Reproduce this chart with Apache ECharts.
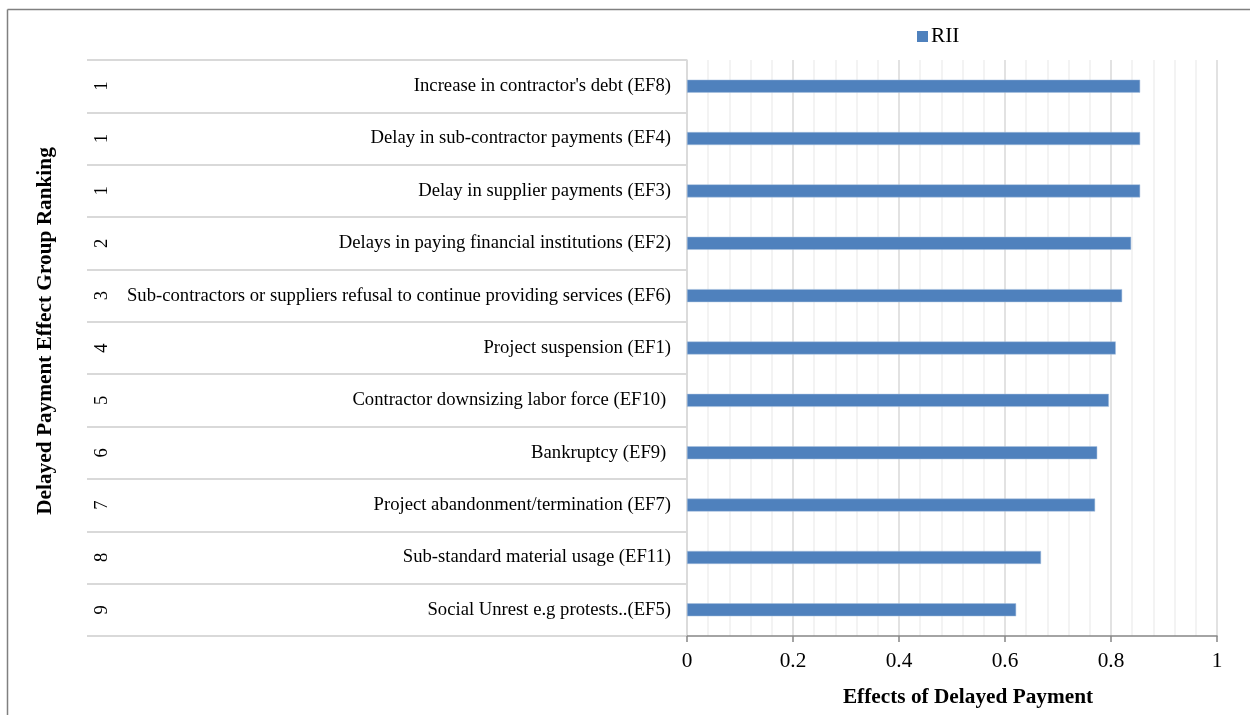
<!DOCTYPE html>
<html>
<head>
<meta charset="utf-8">
<script src="https://cdn.jsdelivr.net/npm/echarts@6/dist/echarts.min.js"></script>
<style>html,body{margin:0;padding:0;background:#fff;}#c{width:1250px;height:715px;}</style>
</head>
<body>
<div id="c"></div>
<script>
const categories = [
  "Increase in contractor's debt (EF8)",
  "Delay in sub-contractor payments (EF4)",
  "Delay in supplier payments (EF3)",
  "Delays in paying financial institutions (EF2)",
  "Sub-contractors or suppliers refusal to continue providing services (EF6)",
  "Project suspension (EF1)",
  "Contractor downsizing labor force (EF10) ",
  "Bankruptcy (EF9) ",
  "Project abandonment/termination (EF7)",
  "Sub-standard material usage (EF11)",
  "Social Unrest e.g protests..(EF5)"
];
const ranks = ["1","1","1","2","3","4","5","6","7","8","9"];
const rii = [0.855, 0.855, 0.855, 0.838, 0.821, 0.809, 0.796, 0.774, 0.770, 0.668, 0.621];
const xTicks = { min: 0, max: 1, interval: 0.2 };

const serif = "'Liberation Serif', 'DejaVu Serif', serif";
const chart = echarts.init(document.getElementById('c'));
chart.setOption({
  animation: false,
  backgroundColor: '#fff',
  legend: {
    data: ['RII'], left: 912, top: 21, itemWidth: 11, itemHeight: 11, itemGap: 3,
    icon: 'rect',
    itemStyle: { borderWidth: 0 },
    textStyle: { fontFamily: serif, fontSize: 21.3, color: '#000', padding: [2,0,0,-2] }
  },
  grid: [
    { left: 687, right: 33, top: 60, bottom: 79 },
    { left: 87, width: 600, top: 60, bottom: 79 }
  ],
  xAxis: [
    {
      type: 'value', gridIndex: 0, min: xTicks.min, max: xTicks.max, interval: xTicks.interval,
      axisLine: { show: true, lineStyle: { color: '#868686', width: 1.5 } },
      axisTick: { show: true, length: 6, lineStyle: { color: '#868686', width: 1.5 } },
      axisLabel: { fontFamily: serif, fontSize: 21.3, color: '#000', margin: 15 },
      splitLine: { show: true, lineStyle: { color: '#d9d9d9', width: 1.5 } },
      minorTick: { show: false, splitNumber: 5 },
      minorSplitLine: { show: true, lineStyle: { color: '#efefef', width: 1.5 } }
    },
    { type: 'value', gridIndex: 1, show: false }
  ],
  yAxis: [
    {
      type: 'category', gridIndex: 0, data: categories, inverse: true,
      axisLine: { show: true, lineStyle: { color: '#d9d9d9', width: 1.5 } },
      axisTick: { show: true, length: 5, lineStyle: { color: '#d9d9d9', width: 1.5 } },
      axisLabel: { fontFamily: serif, fontSize: 18.67, color: '#000', margin: 16 },
      splitLine: { show: false }
    },
    {
      type: 'category', gridIndex: 1, data: ranks, inverse: true,
      axisLine: { show: false }, axisTick: { show: false },
      axisLabel: { inside: true, rotate: 90, fontFamily: serif, fontSize: 18.67, color: '#000', margin: 6 },
      splitLine: { show: true, lineStyle: { color: '#d9d9d9', width: 2 } }
    }
  ],
  series: [
    {
      name: 'RII', type: 'bar', xAxisIndex: 0, yAxisIndex: 0, data: rii, barWidth: 13,
      itemStyle: { color: '#4F81BD', borderColor: '#a9c0de', borderWidth: 0.5 }
    }
  ],
  graphic: [
    { type: 'line', shape: { x1: 7.5, y1: 9.5, x2: 7.5, y2: 715 }, style: { stroke: '#808080', lineWidth: 1.5 } },
    { type: 'line', shape: { x1: 7.5, y1: 9.5, x2: 1250, y2: 9.5 }, style: { stroke: '#808080', lineWidth: 1.5 } },
    { type: 'text', x: 45, y: 331, rotation: Math.PI / 2,
      style: { text: 'Delayed Payment Effect Group Ranking', font: "bold 21.3px " + serif, fill: '#000', align: 'center', verticalAlign: 'middle' } },
    { type: 'text', x: 968, y: 697,
      style: { text: 'Effects of Delayed Payment', font: "bold 21.3px " + serif, fill: '#000', align: 'center', verticalAlign: 'middle' } }
  ]
});
</script>
</body>
</html>
